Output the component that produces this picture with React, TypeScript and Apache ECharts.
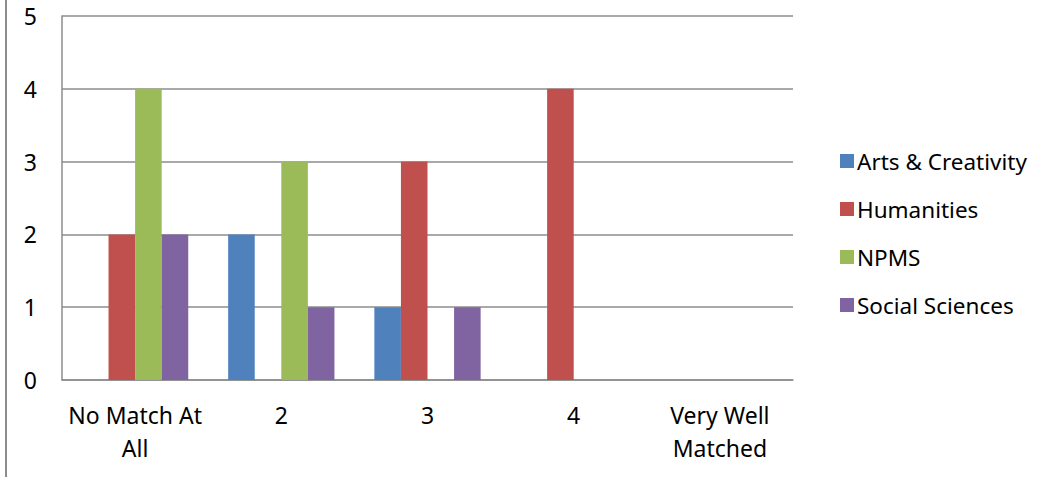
import React, { useEffect, useRef } from "react";
import * as echarts from "echarts";

const categories = ["No Match At\nAll", "2", "3", "4", "Very Well\nMatched"];
const seriesNames = ["Arts & Creativity", "Humanities", "NPMS", "Social Sciences"];
const artsValues = [0, 2, 1, 0, 0];
const humanitiesValues = [2, 0, 3, 4, 0];
const npmsValues = [4, 3, 0, 0, 0];
const socialValues = [2, 1, 1, 0, 0];
const colors = ["#4F81BD", "#C0504D", "#9BBB59", "#8064A2"];

export default function App() {
  const ref = useRef<HTMLDivElement>(null);
  useEffect(() => {
    if (!ref.current) return;
    const chart = echarts.init(ref.current, null, { renderer: "svg" });
    const font = "'Noto Sans', sans-serif";
    const all = [artsValues, humanitiesValues, npmsValues, socialValues];
    chart.setOption({
      animation: false,
      backgroundColor: "#ffffff",
      color: colors,
      grid: { left: 62, right: 260, top: 16, bottom: 97, containLabel: false },
      legend: {
        orient: "vertical",
        left: 835,
        top: 144,
        itemWidth: 14,
        itemHeight: 14,
        itemGap: 24,
        icon: "rect",
        textStyle: { fontFamily: font, fontSize: 22.5, lineHeight: 24, color: "#000", padding: [0, 0, 0, -2] },
        data: seriesNames,
      },
      xAxis: {
        type: "category",
        data: categories,
        axisLine: { show: true, lineStyle: { color: "#8c8c8c", width: 1.5 } },
        axisTick: { show: false },
        axisLabel: {
          fontFamily: font,
          fontSize: 23,
          color: "#000",
          margin: 18,
          lineHeight: 33,
          interval: 0,
        },
      },
      yAxis: {
        type: "value",
        min: 0,
        max: 5,
        interval: 1,
        axisLine: { show: true, lineStyle: { color: "#8c8c8c", width: 1.5 } },
        axisTick: { show: false },
        splitLine: { show: true, lineStyle: { color: "#8c8c8c", width: 1.5 } },
        axisLabel: { fontFamily: font, fontSize: 23, color: "#000", margin: 25, align: "right" },
      },
      graphic: [
        {
          type: "line",
          shape: { x1: 6, y1: 0, x2: 6, y2: 477 },
          style: { stroke: "#8c8c8c", lineWidth: 2 },
        },
      ],
      series: seriesNames.map((name, i) => ({
        name,
        type: "bar",
        data: all[i],
        barGap: "0%",
        barCategoryGap: "27.3%",
        itemStyle: { color: colors[i] },
      })),
    });
    return () => chart.dispose();
  }, []);
  return (
    <div
      ref={ref}
      style={{ position: "fixed", left: 0, top: 0, width: 1053, height: 477 }}
    />
  );
}
